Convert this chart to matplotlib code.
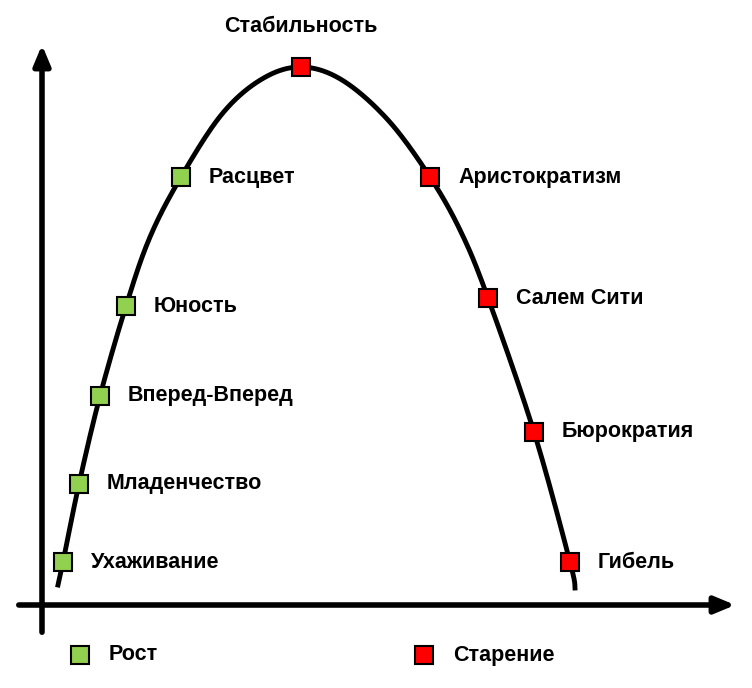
import numpy as np
import matplotlib
matplotlib.use("Agg")
import matplotlib.pyplot as plt

labels = ["Ухаживание","Младенчество","Вперед-Вперед","Юность","Расцвет",
          "Стабильность","Аристократизм","Салем Сити","Бюрократия","Гибель"]
px = [63,79,100,126,181,301,430,488,534,570]
py = [562,484,396,306,177,67,177,298,432,562]
stage = ["g"]*5 + ["r"]*5
curve_x = [58,63,79,100,126,150,181,222,262,301,342,388,430,461,488,534,570,575]
curve_y = [585,562,484,396,306,237,177,114,79,67,80,120,177,232,298,432,562,588]
legend_labels = ["Рост","Старение"]

GREEN = "#92D050"; RED = "#FF0000"

def catmull(xs, ys, n=20):
    P = np.array(list(zip(xs, ys)), float)
    P = np.vstack([P[0], P, P[-1]])
    out = []
    for i in range(1, len(P)-2):
        p0,p1,p2,p3 = P[i-1],P[i],P[i+1],P[i+2]
        for t in np.linspace(0,1,n,endpoint=False):
            out.append(0.5*((2*p1)+(-p0+p2)*t+(2*p0-5*p1+4*p2-p3)*t*t+(-p0+3*p1-3*p2+p3)*t**3))
    out.append(P[-2])
    return np.array(out)

fig = plt.figure(figsize=(7.52,6.88), dpi=100)
ax = fig.add_axes([0,0,1,1])
ax.set_xlim(0,752); ax.set_ylim(688,0); ax.axis("off")

ax.annotate("", xy=(42,42), xytext=(42,635),
            arrowprops=dict(arrowstyle="-|>,head_width=0.5,head_length=1.2", lw=4, color="black"))
ax.annotate("", xy=(738,605), xytext=(16,605),
            arrowprops=dict(arrowstyle="-|>,head_width=0.5,head_length=1.2", lw=4, color="black"))

c = catmull(curve_x, curve_y)
ax.plot(c[:,0], c[:,1], color="black", lw=3.5, zorder=2)

font = dict(family="Liberation Sans", fontweight="bold", fontsize=15.5)
for l, x, y, s in zip(labels, px, py, stage):
    ax.plot(x, y, marker="s", ms=13, mfc=GREEN if s=="g" else RED, mec="black", mew=1.5, zorder=3)
    if l == "Стабильность":
        ax.text(x, 27, l, ha="center", va="center", **font)
    else:
        ax.text(x+28, y, l, ha="left", va="center", **font)

for (x, col, l) in [(80, GREEN, legend_labels[0]), (424, RED, legend_labels[1])]:
    ax.plot(x, 655, marker="s", ms=13, mfc=col, mec="black", mew=1.5)
    ax.text(x+29, 655, l, ha="left", va="center", **font)

fig.savefig("out.png", dpi=100)
